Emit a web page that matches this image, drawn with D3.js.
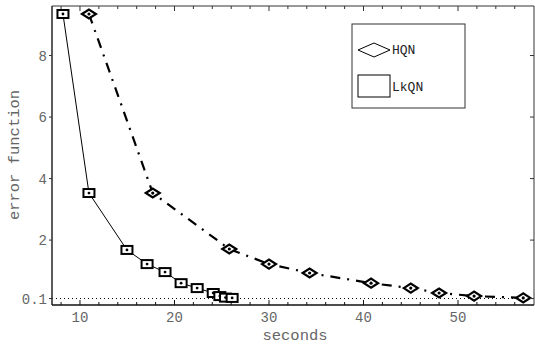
<!DOCTYPE html>
<html>
<head>
<meta charset="utf-8">
<script src="https://cdn.jsdelivr.net/npm/d3@7"></script>
<style>
  body { margin: 0; background: #fff; }
  svg { display: block; }
  .tick-label { font-family: "Liberation Mono", monospace; font-size: 14px; fill: #666; }
  .axis-title { font-family: "Liberation Mono", monospace; font-size: 15.5px; fill: #666; }
  .legend-text { font-family: "Liberation Mono", monospace; font-size: 13px; fill: #222; }
</style>
</head>
<body>
<svg width="535" height="344"></svg>
<script>
// data
const hqnSeconds = [10.95, 17.7, 25.8, 30.0, 34.3, 40.8, 45.0, 48.0, 51.7, 56.9];
const hqnError = [9.35, 3.53, 1.71, 1.22, 0.93, 0.6, 0.44, 0.28, 0.18, 0.12];
const lkqnSeconds = [8.2, 10.95, 14.97, 17.1, 19.0, 20.7, 22.4, 24.1, 24.8, 25.4, 26.1];
const lkqnError = [9.35, 3.53, 1.68, 1.22, 0.96, 0.6, 0.44, 0.28, 0.18, 0.13, 0.12];
const xTicks = [10, 20, 30, 40, 50];
const yTicks = [2, 4, 6, 8];
const threshold = 0.1;

const width = 535;
const height = 344;
const padLeft = 52, padRight = 534, padTop = 6, padBottom = 305;

const svg = d3.select("svg");

const xScale = d3.scaleLinear().domain([7.04, 58.04]).range([padLeft, padRight]);
const yScale = d3.scaleLinear().domain([-0.11, 9.61]).range([padBottom, padTop]);

const hqn = hqnSeconds.map((s, i) => ({ x: s, y: hqnError[i] }));
const lkqn = lkqnSeconds.map((s, i) => ({ x: s, y: lkqnError[i] }));

// threshold dotted line
svg.append("line")
  .attr("x1", padLeft).attr("x2", padRight)
  .attr("y1", yScale(threshold)).attr("y2", yScale(threshold))
  .attr("stroke", "#000").attr("stroke-width", 1)
  .attr("stroke-dasharray", "1,3");

const line = d3.line().x((d) => xScale(d.x)).y((d) => yScale(d.y));

svg.append("path").datum(lkqn)
  .attr("d", line).attr("fill", "none")
  .attr("stroke", "#000").attr("stroke-width", 1);

svg.append("path").datum(hqn)
  .attr("d", line).attr("fill", "none")
  .attr("stroke", "#000").attr("stroke-width", 2.2)
  .attr("stroke-dasharray", "10,7,2,7");

// markers
const diamond = (w, h) => `M${-w / 2},0L0,${-h / 2}L${w / 2},0L0,${h / 2}Z`;

const hqnG = svg.append("g").selectAll("g").data(hqn).enter().append("g")
  .attr("transform", (d) => `translate(${xScale(d.x)},${yScale(d.y)})`);
hqnG.append("path").attr("d", diamond(14, 9))
  .attr("fill", "#fff").attr("stroke", "#000").attr("stroke-width", 2.2);
hqnG.append("circle").attr("r", 1.6).attr("fill", "#000");

const lkqnG = svg.append("g").selectAll("g").data(lkqn).enter().append("g")
  .attr("transform", (d) => `translate(${xScale(d.x)},${yScale(d.y)})`);
lkqnG.append("rect").attr("x", -5.5).attr("y", -4).attr("width", 11).attr("height", 8)
  .attr("fill", "#fff").attr("stroke", "#000").attr("stroke-width", 2);
lkqnG.append("circle").attr("r", 1.4).attr("fill", "#000");

// frame
const frame = svg.append("g");
frame.append("line").attr("x1", padLeft).attr("x2", padLeft).attr("y1", padTop).attr("y2", padBottom)
  .attr("stroke", "#333").attr("stroke-width", 1.6);
frame.append("line").attr("x1", padLeft).attr("x2", padRight).attr("y1", padBottom).attr("y2", padBottom)
  .attr("stroke", "#111").attr("stroke-width", 1.6);
frame.append("line").attr("x1", padLeft).attr("x2", padRight).attr("y1", padTop).attr("y2", padTop)
  .attr("stroke", "#333").attr("stroke-width", 1);
frame.append("line").attr("x1", padRight).attr("x2", padRight).attr("y1", padTop).attr("y2", padBottom)
  .attr("stroke", "#333").attr("stroke-width", 1);

// x ticks (inward, mirrored on top)
const xMinor = d3.range(8, 58, 2);
xMinor.forEach((v) => {
  const major = v % 10 === 0;
  const len = major ? 5 : 3;
  frame.append("line").attr("x1", xScale(v)).attr("x2", xScale(v))
    .attr("y1", padBottom).attr("y2", padBottom - len).attr("stroke", "#111");
  frame.append("line").attr("x1", xScale(v)).attr("x2", xScale(v))
    .attr("y1", padTop).attr("y2", padTop + len).attr("stroke", "#333");
});

svg.append("g").selectAll("text").data(xTicks).enter().append("text")
  .attr("class", "tick-label")
  .attr("x", (d) => xScale(d)).attr("y", padBottom + 17)
  .attr("text-anchor", "middle")
  .text((d) => d);

// y ticks
const yLabels = [threshold].concat(yTicks);
yLabels.forEach((v) => {
  frame.append("line").attr("x1", padLeft - 3).attr("x2", padLeft)
    .attr("y1", yScale(v)).attr("y2", yScale(v)).attr("stroke", "#333");
  frame.append("line").attr("x1", padRight - 4).attr("x2", padRight)
    .attr("y1", yScale(v)).attr("y2", yScale(v)).attr("stroke", "#333");
});
svg.append("g").selectAll("text").data(yLabels).enter().append("text")
  .attr("class", "tick-label")
  .attr("x", padLeft - 5).attr("y", (d) => yScale(d) + 5)
  .attr("text-anchor", "end")
  .text((d) => d);

// axis titles
svg.append("text").attr("class", "axis-title")
  .attr("x", 295).attr("y", 340)
  .attr("text-anchor", "middle").text("seconds");
svg.append("text").attr("class", "axis-title")
  .attr("transform", "translate(19,155) rotate(-90)")
  .attr("text-anchor", "middle").text("error function");

// legend
const legend = svg.append("g");
legend.append("rect").attr("x", 352).attr("y", 24).attr("width", 113).attr("height", 84)
  .attr("fill", "#fff").attr("stroke", "#333").attr("stroke-width", 1);
legend.append("path").attr("d", diamond(32, 14))
  .attr("transform", "translate(374,50)")
  .attr("fill", "#fff").attr("stroke", "#000").attr("stroke-width", 1);
legend.append("text").attr("class", "legend-text").attr("x", 392).attr("y", 54).text("HQN");
legend.append("rect").attr("x", 358).attr("y", 75).attr("width", 32).attr("height", 22)
  .attr("fill", "#fff").attr("stroke", "#000").attr("stroke-width", 1);
legend.append("text").attr("class", "legend-text").attr("x", 392).attr("y", 91).text("LkQN");
</script>
</body>
</html>
